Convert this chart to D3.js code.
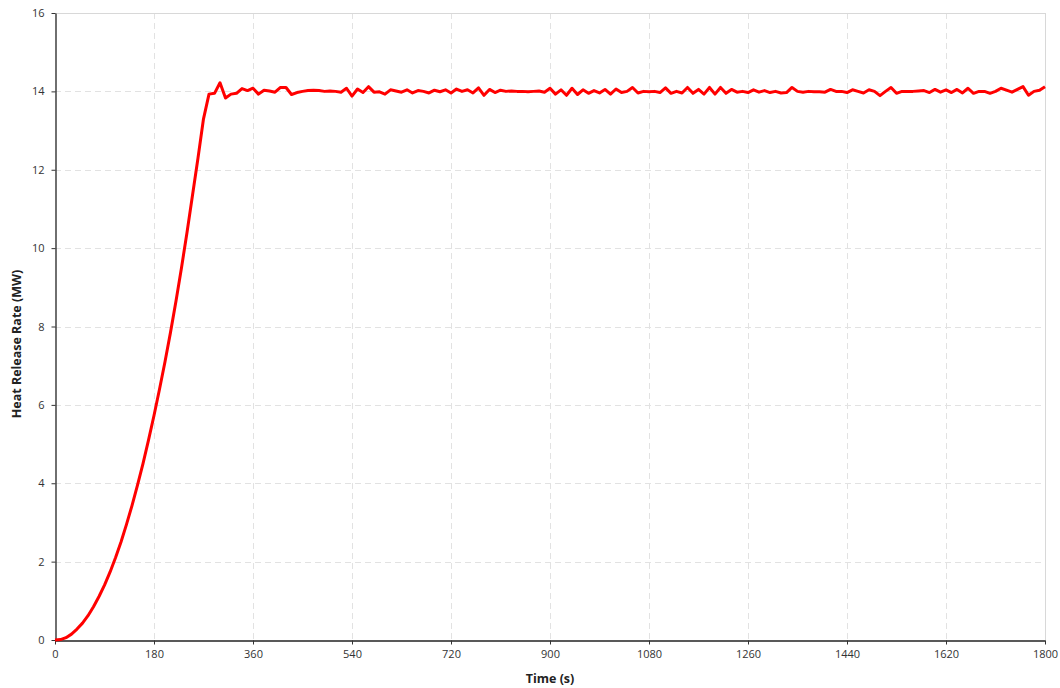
<!DOCTYPE html>
<html><head><meta charset="utf-8">
<script src="https://cdn.jsdelivr.net/npm/d3@7"></script>
<style>
html,body{margin:0;padding:0;background:#fff;}
svg{display:block;}
text{font-family:"Open Sans","DejaVu Sans",sans-serif;}
</style></head>
<body><svg id="c" width="1060" height="688"></svg>
<script>
// Time (s), 10 s steps
const times = d3.range(0, 1801, 10);
// Heat release rate (MW)
const hrr = [
0,0.01,0.06,0.15,0.28,0.43,0.62,0.85,1.11,1.4,
1.73,2.1,2.5,2.95,3.43,3.95,4.5,5.1,5.73,6.4,
7.1,7.85,8.65,9.5,10.4,11.35,12.3,13.3,13.93,13.95,
14.22,13.83,13.93,13.95,14.07,14.02,14.08,13.93,14.03,14.01,
13.98,14.1,14.1,13.92,13.97,14.0,14.02,14.03,14.02,14.0,
14.01,14.0,13.98,14.08,13.88,14.06,13.97,14.12,13.98,13.99,
13.93,14.04,14.01,13.98,14.04,13.96,14.02,14.0,13.96,14.03,
13.99,14.04,13.96,14.06,14.0,14.04,13.96,14.09,13.9,14.05,
13.97,14.03,14.0,14.01,14.0,14.0,13.99,14.0,14.01,13.98,
14.08,13.93,14.04,13.9,14.08,13.92,14.04,13.95,14.02,13.96,
14.05,13.93,14.06,13.97,14.0,14.1,13.96,14.0,13.99,14.0,
13.97,14.09,13.95,14.0,13.96,14.1,13.95,14.05,13.93,14.1,
13.93,14.1,13.95,14.05,13.98,14.0,13.97,14.04,13.98,14.02,
13.97,14.0,13.96,13.97,14.1,14.0,13.98,14.0,13.99,13.99,
13.98,14.05,14.0,14.0,13.97,14.04,14.0,13.96,14.04,14.0,
13.89,14.0,14.1,13.95,14.0,14.0,14.0,14.01,14.02,13.97,
14.05,13.98,14.04,13.97,14.05,13.96,14.08,13.95,14.0,14.0,
13.95,14.0,14.08,14.03,13.98,14.05,14.12,13.9,14.0,14.03,
14.12];
const xTicks = [0,180,360,540,720,900,1080,1260,1440,1620,1800];
const yTicks = [0,2,4,6,8,10,12,14,16];
const xTitle = "Time (s)";
const yTitle = "Heat Release Rate (MW)";

const svg = d3.select("#c");
const L = 55, R = 1045, T = 13, B = 640;
const x = d3.scaleLinear().domain([0,1800]).range([L,R]);
const y = d3.scaleLinear().domain([0,16]).range([B,T]);

// grid
const g = svg.append("g");
g.selectAll(".vg").data(xTicks.filter(d=>d>0 && d<1800)).join("line")
 .attr("x1",d=>x(d)+0.5).attr("x2",d=>x(d)+0.5).attr("y1",T).attr("y2",B)
 .attr("stroke","#e2e2e2").attr("stroke-dasharray","6,4");
g.selectAll(".hg").data(yTicks.filter(d=>d>0 && d<16)).join("line")
 .attr("y1",d=>Math.round(y(d))+0.5).attr("y2",d=>Math.round(y(d))+0.5).attr("x1",L).attr("x2",R)
 .attr("stroke","#e2e2e2").attr("stroke-dasharray","6,4");
// top & right border
g.append("line").attr("x1",L).attr("x2",R).attr("y1",T+0.5).attr("y2",T+0.5).attr("stroke","#d8d8d8");
g.append("line").attr("x1",R+0.5).attr("x2",R+0.5).attr("y1",T).attr("y2",B).attr("stroke","#d8d8d8");

// axes
const xa = svg.append("g").attr("transform",`translate(0,${B+0.5})`)
 .call(d3.axisBottom(x).tickValues(xTicks).tickFormat(d3.format("d")).tickSize(4).tickSizeOuter(0).tickPadding(6));
const ya = svg.append("g").attr("transform",`translate(${L+0.5},0)`)
 .call(d3.axisLeft(y).tickValues(yTicks).tickFormat(d3.format("d")).tickSize(4).tickSizeOuter(0).tickPadding(7));
[xa,ya].forEach(a=>{
  a.select(".domain").attr("stroke","#222").attr("stroke-width",1.3);
  a.selectAll(".tick line").attr("stroke","#333");
  a.selectAll(".tick text").attr("fill","#333").style("font-size","11px")
   .style("font-family","'Open Sans','DejaVu Sans',sans-serif");
});

// line
const data = times.map((t,i)=>[t,hrr[i]]);
svg.append("path").datum(data)
 .attr("fill","none").attr("stroke","#ff0000").attr("stroke-width",3)
 .attr("stroke-linejoin","round")
 .attr("d", d3.line().x(d=>x(d[0])).y(d=>y(d[1])));

// titles
svg.append("text").attr("x",550).attr("y",683).attr("text-anchor","middle")
 .attr("font-weight","bold").attr("font-size","12.5px").attr("fill","#222").text(xTitle);
svg.append("text").attr("transform",`translate(21,344) rotate(-90)`).attr("text-anchor","middle")
 .attr("font-weight","bold").attr("font-size","12.5px").attr("fill","#222").text(yTitle);
</script></body></html>
